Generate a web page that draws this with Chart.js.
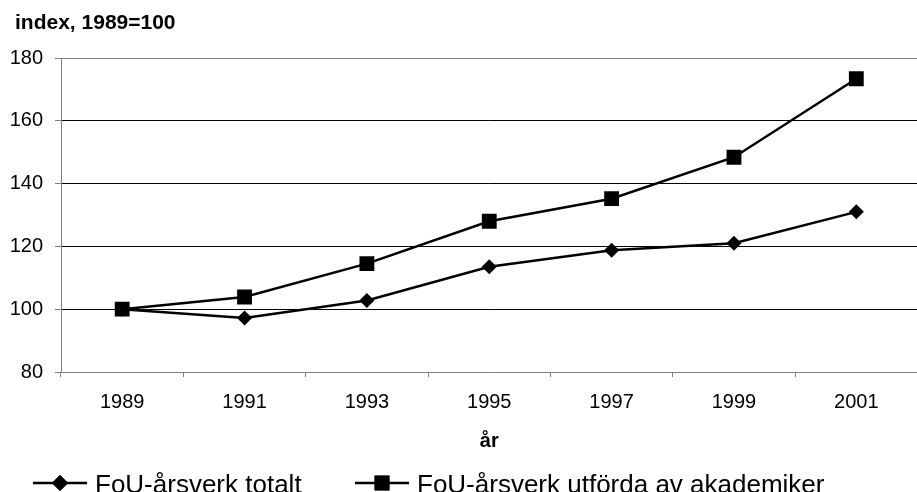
<!DOCTYPE html>
<html>
<head>
<meta charset="utf-8">
<script src="https://cdn.jsdelivr.net/npm/chart.js@4"></script>
<style>
  html, body { margin: 0; padding: 0; background: #fff; overflow: hidden; }
  #wrap { width: 928px; height: 492px; position: relative; }
</style>
</head>
<body>
<div id="wrap"><canvas id="canvas"></canvas></div>
<script>
//****DATA****//

var years = ['1989', '1991', '1993', '1995', '1997', '1999', '2001'];
var totalt = [100, 97.2, 102.8, 113.5, 118.8, 121, 131];
var akademiker = [100, 103.9, 114.5, 128, 135.2, 148.4, 173.4];
var seriesNames = ['FoU-årsverk totalt', 'FoU-årsverk utförda av akademiker'];
var yTicks = { min: 80, max: 180, step: 20 };
var yTitle = 'index, 1989=100';
var xTitle = 'år';

//****PLUGIN: title + legend****//

var FONT = '"Liberation Sans", Arial, sans-serif';

var extras = {
  id: 'extras',
  afterDraw: function(chart) {
    var ctx = chart.ctx;
    ctx.save();
    ctx.fillStyle = '#000';
    ctx.font = 'bold 21px ' + FONT;
    ctx.textBaseline = 'middle';
    ctx.textAlign = 'left';
    ctx.fillText(yTitle, 15, 23);

    // legend: line with marker, then label
    var items = [
      { x: 33, style: 'rectRot', r: 8 },
      { x: 355, style: 'rect', r: 10.5 }
    ];
    var ly = 483;
    ctx.font = '26px ' + FONT;
    ctx.textBaseline = 'alphabetic';
    for (var i = 0; i < items.length; i++) {
      var it = items[i];
      ctx.strokeStyle = '#000';
      ctx.lineWidth = 2.5;
      ctx.beginPath();
      ctx.moveTo(it.x, ly);
      ctx.lineTo(it.x + 54, ly);
      ctx.stroke();
      ctx.fillStyle = '#000';
      Chart.helpers.drawPoint(ctx, { pointStyle: it.style, radius: it.r, borderWidth: 0 }, it.x + 27, ly);
      ctx.fill();
      ctx.fillText(seriesNames[i], it.x + 62, 493);
    }
    ctx.restore();
  }
};

//****CHART****//

var greyAt = function(c) {
  return (c.tick && (c.tick.value === yTicks.max || c.tick.value === yTicks.min)) ? '#808080' : '#000';
};

var chart = new Chart(document.getElementById('canvas').getContext('2d'), {
  type: 'line',
  data: {
    labels: years,
    datasets: [
      {
        label: seriesNames[0],
        data: totalt,
        borderColor: '#000',
        backgroundColor: '#000',
        borderWidth: 2.5,
        pointStyle: 'rectRot',
        pointRadius: 7.5,
        pointBorderWidth: 0,
        tension: 0
      },
      {
        label: seriesNames[1],
        data: akademiker,
        borderColor: '#000',
        backgroundColor: '#000',
        borderWidth: 2.5,
        pointStyle: 'rect',
        pointRadius: 10.5,
        pointBorderWidth: 0,
        tension: 0
      }
    ]
  },
  options: {
    responsive: true,
    maintainAspectRatio: false,
    animation: false,
    devicePixelRatio: 1,
    layout: { padding: { top: 58, left: 0, right: 0, bottom: 0 } },
    plugins: {
      legend: { display: false },
      tooltip: { enabled: false },
      title: { display: false }
    },
    scales: {
      x: {
        offset: true,
        afterFit: function(s) { s.height = 120; },
        grid: {
          offset: true,
          drawOnChartArea: false,
          color: '#808080',
          tickLength: 5
        },
        border: { color: '#808080', width: 1 },
        ticks: { color: '#000', font: { size: 20, family: FONT }, padding: 13, maxRotation: 0 },
        title: {
          display: true,
          text: xTitle,
          color: '#000',
          font: { size: 20, weight: 'bold', family: FONT },
          padding: { top: 0, bottom: 39 }
        }
      },
      y: {
        min: yTicks.min,
        max: yTicks.max,
        afterFit: function(s) { s.width = 61; },
        grid: { color: greyAt, tickColor: '#808080', tickLength: 6, lineWidth: 1 },
        border: { color: '#808080', width: 1 },
        ticks: { stepSize: yTicks.step, color: '#000', font: { size: 20, family: FONT }, padding: 12 }
      }
    }
  },
  plugins: [extras]
});
</script>
</body>
</html>
